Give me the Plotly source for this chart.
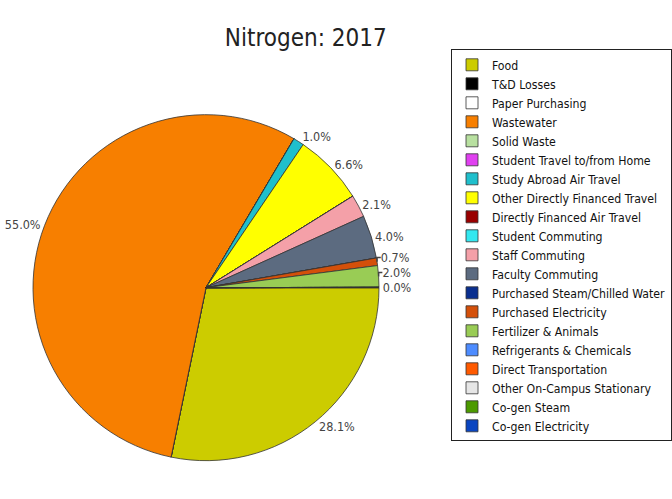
import plotly.graph_objects as go

# Emission sources (legend order = slice order, clockwise from 3 o'clock)
sources = [
    "Food", "T&D Losses", "Paper Purchasing", "Wastewater", "Solid Waste",
    "Student Travel to/from Home", "Study Abroad Air Travel",
    "Other Directly Financed Travel", "Directly Financed Air Travel",
    "Student Commuting", "Staff Commuting", "Faculty Commuting",
    "Purchased Steam/Chilled Water", "Purchased Electricity",
    "Fertilizer & Animals", "Refrigerants & Chemicals",
    "Direct Transportation", "Other On-Campus Stationary",
    "Co-gen Steam", "Co-gen Electricity",
]

# Share of nitrogen footprint, percent
shares = [
    28.1, 0.0, 0.0, 55.0, 0.0,
    0.0, 1.0,
    6.6, 0.0,
    0.0, 2.1, 4.0,
    0.0, 0.7,
    2.0, 0.0,
    0.0, 0.0,
    0.03, 0.0,
]

colors = [
    "#CCCC00", "#000000", "#FFFFFF", "#F77F00", "#B8E0A0",
    "#E040F0", "#1FBFCC",
    "#FFFF00", "#990000",
    "#33E8F0", "#F4A0A8", "#5C6B80",
    "#0A2F8F", "#D4500A",
    "#99CC55", "#4D8CFF",
    "#FF5A00", "#E6E6E6",
    "#4C9A00", "#0A45C0",
]

# Only slices that carry a value get a percentage label
templates = ["%{value:.1f}%" if v > 0 else "" for v in shares]

FONT = "DejaVu Sans Condensed, Liberation Sans Narrow, sans-serif"

fig = go.Figure(
    go.Pie(
        labels=sources,
        values=shares,
        sort=False,
        direction="clockwise",
        rotation=90,
        marker=dict(colors=colors, line=dict(color="#333333", width=0.8)),
        texttemplate=templates,
        textposition="outside",
        textfont=dict(family=FONT, size=12.5, color="#444444"),
        domain=dict(x=[0.0, 0.57], y=[0.033, 0.80]),
        hoverinfo="label+percent",
    )
)

fig.update_layout(
    width=672,
    height=499,
    margin=dict(l=0, r=0, t=0, b=0),
    paper_bgcolor="white",
    plot_bgcolor="white",
    title=dict(
        text="Nitrogen: 2017",
        x=0.455,
        xanchor="center",
        y=0.925,
        yanchor="middle",
        font=dict(family=FONT, size=24, color="#222222"),
    ),
    legend=dict(
        x=0.689,
        xanchor="left",
        y=0.9,
        yanchor="top",
        bordercolor="#222222",
        borderwidth=1,
        bgcolor="white",
        font=dict(family=FONT, size=12.2, color="#111111"),
        traceorder="normal",
    ),
    showlegend=True,
)

fig.write_html("out.html")
